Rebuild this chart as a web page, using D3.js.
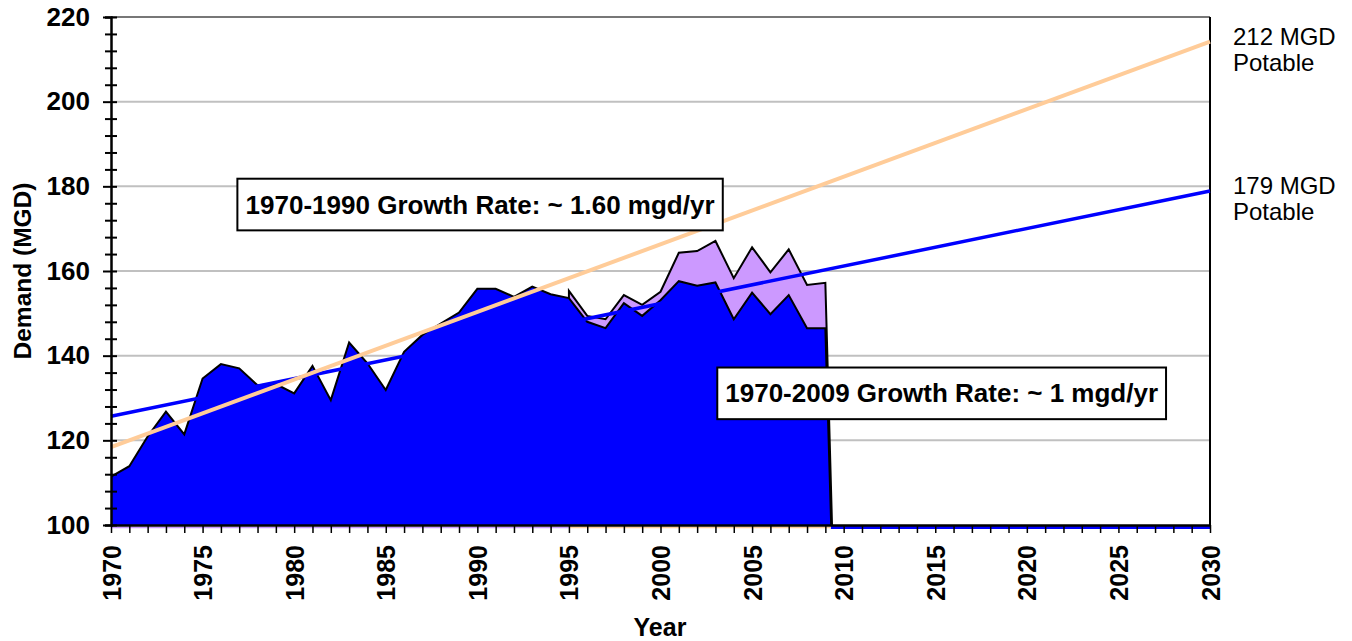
<!DOCTYPE html>
<html>
<head>
<meta charset="utf-8">
<script src="https://cdn.jsdelivr.net/npm/d3@7"></script>
<style>
body { margin: 0; background: #fff; }
text { font-family: "Liberation Sans", Arial, sans-serif; }
</style>
</head>
<body>
<script>
// years on the x axis
var years = d3.range(1970, 2031);

// potable demand (blue area), zero after 2009
var potable = [111.4, 113.9, 120.9, 126.8, 121.4, 134.6, 138.0, 137.0, 133.0, 133.3,
	131.1, 137.6, 129.5, 143.1, 138.2, 131.9, 140.9, 144.9, 147.6, 150.2,
	155.8, 155.8, 153.9, 156.3, 154.5, 153.6, 148.0, 146.5, 152.4, 149.4,
	153.1, 157.6, 156.5, 157.3, 148.6, 154.9, 149.8, 154.3, 146.5, 146.5,
	0, 0, 0, 0, 0, 0, 0, 0, 0, 0, 0, 0, 0, 0, 0, 0, 0, 0, 0, 0, 0];

// total demand (purple area), only reported from 1995
var total = [null, null, null, null, null, null, null, null, null, null,
	null, null, null, null, null, null, null, null, null, null,
	null, null, null, null, null, 155.3, 149.4, 148.6, 154.3, 152.0,
	155.1, 164.3, 164.7, 167.1, 158.3, 165.6, 159.7, 165.1, 156.7, 157.2,
	0, 0, 0, 0, 0, 0, 0, 0, 0, 0, 0, 0, 0, 0, 0, 0, 0, 0, 0, 0, 0];

// trend lines
var trendYears = [1970, 2030];
var trend2009 = [125.7, 178.9];
var trend1990 = [118.4, 214.2];

var yTicks = [100, 120, 140, 160, 180, 200, 220];

var blue = '#0000FF';
var purple = '#CC99FF';
var peach = '#FFCC99';

var width = 1352, height = 641;
var plot_left = 111, plot_right = 1210, plot_top = 17, plot_bottom = 525;

var svg = d3.select("body").append("svg")
	.attr("width", width)
	.attr("height", height);

var x = d3.scaleLinear().domain([1970, 2030]).range([plot_left, plot_right]);
var y = d3.scaleLinear().domain([100, 220]).range([plot_bottom, plot_top]);

svg.append("defs").append("clipPath").attr("id", "plot")
	.append("rect")
	.attr("x", plot_left).attr("y", plot_top - 2)
	.attr("width", plot_right - plot_left).attr("height", plot_bottom - plot_top + 2);

// grid lines
svg.selectAll(".grid")
	.data(yTicks.slice(1))
	.enter()
	.append("line")
	.attr("class", "grid")
	.attr("x1", plot_left).attr("x2", plot_right)
	.attr("y1", function(d) { return y(d) })
	.attr("y2", function(d) { return y(d) })
	.attr("stroke", function(d) { return d == 220 ? "#777" : "#c0c0c0" })
	.attr("stroke-width", 2);

// right border
svg.append("line")
	.attr("x1", plot_right).attr("x2", plot_right)
	.attr("y1", plot_top).attr("y2", plot_bottom)
	.attr("stroke", "#000").attr("stroke-width", 2);

var totalRows = years.map(function(d, i) { return [d, total[i]] });
var potableRows = years.map(function(d, i) { return [d, potable[i]] });

var area = d3.area()
	.defined(function(d) { return d[1] != null })
	.x(function(d) { return x(d[0]) })
	.y0(plot_bottom)
	.y1(function(d) { return y(d[1]) });

var outline = d3.line()
	.defined(function(d) { return d[1] != null })
	.x(function(d) { return x(d[0]) })
	.y(function(d) { return y(d[1]) });

var plot = svg.append("g").attr("clip-path", "url(#plot)");

// purple = total
var firstTotal = totalRows.filter(function(d) { return d[1] != null });
plot.append("path")
	.datum(firstTotal)
	.attr("d", area)
	.attr("fill", purple);
plot.append("path")
	.datum([[firstTotal[0][0], potable[years.indexOf(firstTotal[0][0])]]].concat(firstTotal))
	.attr("d", outline)
	.attr("fill", "none")
	.attr("stroke", "#000")
	.attr("stroke-width", 2);

// blue = potable
plot.append("path")
	.datum(potableRows)
	.attr("d", area)
	.attr("fill", blue);
plot.append("path")
	.datum(potableRows)
	.attr("d", outline)
	.attr("fill", "none")
	.attr("stroke", "#000")
	.attr("stroke-width", 2);

// zero series running along the x axis
svg.append("line")
	.attr("x1", x(2009.3)).attr("x2", x(2030))
	.attr("y1", y(100) + 2.5).attr("y2", y(100) + 2.5)
	.attr("stroke", blue).attr("stroke-width", 3);
svg.append("line")
	.attr("x1", x(1970)).attr("x2", x(1995))
	.attr("y1", y(100) + 2.5).attr("y2", y(100) + 2.5)
	.attr("stroke", purple).attr("stroke-width", 1.5);
svg.append("line")
	.attr("x1", x(1995)).attr("x2", x(2009.3))
	.attr("y1", y(100) + 2.5).attr("y2", y(100) + 2.5)
	.attr("stroke", peach).attr("stroke-width", 1.5);

// trend lines
var trendLine = d3.line()
	.x(function(d) { return x(d[0]) })
	.y(function(d) { return y(d[1]) });

svg.append("path")
	.datum(trendYears.map(function(d, i) { return [d, trend2009[i]] }))
	.attr("d", trendLine)
	.attr("fill", "none")
	.attr("stroke", blue)
	.attr("stroke-width", 3.5);

svg.append("path")
	.datum(trendYears.map(function(d, i) { return [d, trend1990[i]] }))
	.attr("d", trendLine)
	.attr("fill", "none")
	.attr("stroke", peach)
	.attr("stroke-width", 4);

// y axis
var yAxis = svg.append("g")
	.attr("transform", "translate(" + plot_left + ",0)")
	.call(d3.axisLeft(y)
		.tickValues(d3.range(100, 221, 4))
		.tickSize(6)
		.tickPadding(15)
		.tickFormat(function(d) { return d % 20 == 0 ? d : "" }));
yAxis.select(".domain").attr("stroke-width", 2.5);
yAxis.selectAll(".tick line")
	.attr("x1", function(d) { return d % 20 == 0 ? -8 : -6 })
	.attr("x2", 6)
	.attr("stroke-width", 2);
yAxis.selectAll("text")
	.attr("font-size", "26px")
	.attr("font-weight", "bold")
	.attr("fill", "#000")
	.style("font-family", "'Liberation Sans', Arial, sans-serif");

// x axis
var xAxis = svg.append("g")
	.attr("transform", "translate(0," + plot_bottom + ")")
	.call(d3.axisBottom(x)
		.tickValues(years)
		.tickSize(8)
		.tickSizeOuter(0)
		.tickFormat(function(d) { return d % 5 == 0 ? d : "" }));
xAxis.select(".domain").attr("stroke-width", 2.5);
xAxis.selectAll(".tick line").attr("stroke-width", 1.5);
xAxis.selectAll("text")
	.attr("transform", "rotate(-90)")
	.attr("x", -20)
	.attr("y", 0)
	.attr("dy", "0.36em")
	.attr("text-anchor", "end")
	.attr("font-size", "25px")
	.attr("font-weight", "bold")
	.attr("fill", "#000")
	.style("font-family", "'Liberation Sans', Arial, sans-serif");

// axis titles
svg.append("text")
	.attr("x", 660)
	.attr("y", 636)
	.attr("text-anchor", "middle")
	.attr("font-size", "25px")
	.attr("font-weight", "bold")
	.text("Year");

svg.append("text")
	.attr("transform", "translate(31," + y(160) + ") rotate(-90)")
	.attr("text-anchor", "middle")
	.attr("font-size", "24.5px")
	.attr("font-weight", "bold")
	.text("Demand (MGD)");

// growth rate boxes
var boxes = [
	{label: "1970-1990 Growth Rate: ~ 1.60 mgd/yr", x0: 1976.9, x1: 2003.4, y0: 181.8, y1: 169.6},
	{label: "1970-2009 Growth Rate: ~ 1 mgd/yr", x0: 2003.1, x1: 2027.6, y0: 137.2, y1: 125.0}
];

boxes.forEach(function(b) {
	svg.append("rect")
		.attr("x", x(b.x0))
		.attr("y", y(b.y0))
		.attr("width", x(b.x1) - x(b.x0))
		.attr("height", y(b.y1) - y(b.y0))
		.attr("fill", "#fff")
		.attr("stroke", "#000")
		.attr("stroke-width", 2);
	svg.append("text")
		.attr("x", (x(b.x0) + x(b.x1)) / 2)
		.attr("y", (y(b.y0) + y(b.y1)) / 2 + 9)
		.attr("text-anchor", "middle")
		.attr("font-size", "26px")
		.attr("font-weight", "bold")
		.text(b.label);
});

// end labels
var endLabels = [
	{value: trend1990[1], lines: ["212 MGD", "Potable"]},
	{value: trend2009[1], lines: ["179 MGD", "Potable"]}
];
endLabels.forEach(function(l) {
	var t = svg.append("text")
		.attr("x", plot_right + 23)
		.attr("y", y(l.value) + 3)
		.attr("font-size", "24px");
	l.lines.forEach(function(s, i) {
		t.append("tspan")
			.attr("x", plot_right + 23)
			.attr("dy", i == 0 ? 0 : 26.5)
			.text(s);
	});
});
</script>
</body>
</html>
